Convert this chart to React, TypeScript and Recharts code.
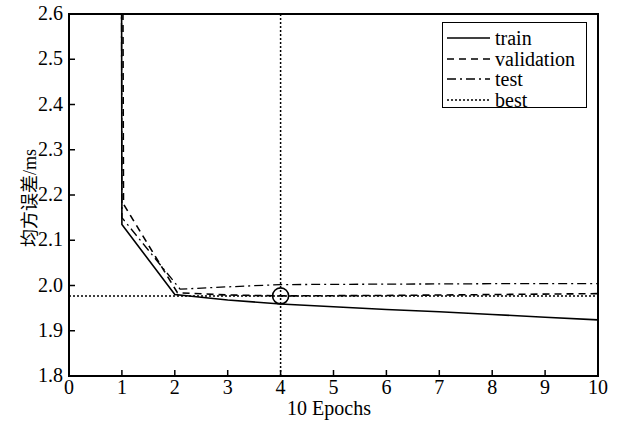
import React from "react";
import {
  LineChart,
  Line,
  XAxis,
  YAxis,
  ReferenceLine,
  ReferenceDot,
  ReferenceArea,
  Legend,
} from "recharts";

const xTicks = [0, 1, 2, 3, 4, 5, 6, 7, 8, 9, 10];
const yTicks = [1.8, 1.9, 2.0, 2.1, 2.2, 2.3, 2.4, 2.5, 2.6];

const trainX = [0.99, 1, 2, 3, 4, 5, 6, 7, 8, 9, 10];
const trainY = [3.0, 2.135, 1.98, 1.968, 1.959, 1.953, 1.947, 1.942, 1.936, 1.93, 1.924];

const validationX = [1.01, 1.03, 2.05, 3, 4, 6, 8, 10];
const validationY = [3.0, 2.18, 1.984, 1.979, 1.977, 1.978, 1.98, 1.982];

const testX = [0.985, 1.0, 2.1, 3, 4, 6, 8, 10];
const testY = [3.0, 2.15, 1.992, 1.997, 2.002, 2.003, 2.004, 2.004];

const bestEpoch = 4;
const bestValue = 1.977;

const toRows = (xs: number[], ys: number[]) => xs.map((x, i) => ({ x, y: ys[i] }));

const FONT = "Liberation Serif, DejaVu Serif, serif";
const PLOT_LEFT = 69;
const PLOT_BOTTOM = 376;

const legendItems = [
  { name: "train", dash: undefined },
  { name: "validation", dash: "7 5" },
  { name: "test", dash: "9 4 2 4" },
  { name: "best", dash: "2 2" },
];

function YTick({ y, payload }: any) {
  return (
    <g>
      <text x={63} y={y} dy={6} textAnchor="end" style={{ fontFamily: FONT }} fontSize={20} fill="#000">
        {Number(payload.value).toFixed(1)}
      </text>
      <line x1={PLOT_LEFT} x2={PLOT_LEFT + 6} y1={y} y2={y} stroke="#000" strokeWidth={1.5} />
    </g>
  );
}

function XTick({ x, payload }: any) {
  return (
    <g>
      <text x={x} y={394} textAnchor="middle" style={{ fontFamily: FONT }} fontSize={20} fill="#000">
        {payload.value}
      </text>
      <line x1={x} x2={x} y1={PLOT_BOTTOM} y2={PLOT_BOTTOM - 6} stroke="#000" strokeWidth={1.5} />
    </g>
  );
}

function LegendBox() {
  return (
    <div
      style={{
        border: "1.5px solid #000",
        background: "#fff",
        width: 143,
        height: 84,
        fontFamily: FONT,
        fontSize: 20,
        boxSizing: "content-box",
      }}
    >
      {legendItems.map((it, i) => (
        <div key={it.name} style={{ height: 20.5, display: "flex", alignItems: "center", marginTop: i === 0 ? 5 : 0 }}>
          <svg width={48} height={10} style={{ marginLeft: 4 }}>
            <line x1={0} x2={43} y1={5} y2={5} stroke="#000" strokeWidth={1.5} strokeDasharray={it.dash} />
          </svg>
          <span style={{ lineHeight: "20px" }}>{it.name}</span>
        </div>
      ))}
    </div>
  );
}

export default function App() {
  return (
    <div style={{ position: "absolute", left: 0, top: 0, width: 621, height: 422, background: "#fff", fontFamily: FONT }}>
      <LineChart width={621} height={422} margin={{ top: 14, right: 23, bottom: 0, left: 0 }}>
        <XAxis
          type="number"
          dataKey="x"
          domain={[0, 10]}
          ticks={xTicks}
          allowDataOverflow
          height={46}
          tickLine={false}
          axisLine={false}
          tick={<XTick />}
          label={{
            content: () => (
              <text x={329} y={415} textAnchor="middle" style={{ fontFamily: FONT }} fontSize={20} fill="#000">
                10 Epochs
              </text>
            ),
          }}
        />
        <YAxis
          type="number"
          domain={[1.8, 2.6]}
          ticks={yTicks}
          allowDataOverflow
          width={69}
          tickLine={false}
          axisLine={false}
          tick={<YTick />}
          label={{
            content: () => (
              <text
                x={36}
                y={198}
                transform="rotate(-90 36 198)"
                textAnchor="middle"
                style={{ fontFamily: "Liberation Serif, Noto Sans CJK SC, serif" }}
                fontSize={18}
                fill="#000"
              >
                均方误差/ms
              </text>
            ),
          }}
        />
        <ReferenceLine y={bestValue} stroke="#000" strokeWidth={1.5} strokeDasharray="2 2" />
        <ReferenceLine x={bestEpoch} stroke="#000" strokeWidth={1.5} strokeDasharray="2 2" />
        <Line
          data={toRows(testX, testY)}
          dataKey="y"
          stroke="#000"
          strokeWidth={1.3}
          strokeDasharray="9 4 2 4"
          dot={false}
          isAnimationActive={false}
        />
        <Line
          data={toRows(validationX, validationY)}
          dataKey="y"
          stroke="#000"
          strokeWidth={1.6}
          strokeDasharray="7 5"
          dot={false}
          isAnimationActive={false}
        />
        <Line
          data={toRows(trainX, trainY)}
          dataKey="y"
          stroke="#000"
          strokeWidth={1.6}
          dot={false}
          isAnimationActive={false}
        />
        <ReferenceDot x={bestEpoch} y={bestValue} r={8} fill="none" stroke="#000" strokeWidth={1.6} />
        <ReferenceArea x1={0} x2={10} y1={1.8} y2={2.6} fill="none" stroke="#000" strokeWidth={2} />
        <Legend
          layout="horizontal"
          verticalAlign="middle"
          align="center"
          wrapperStyle={{ left: 442, top: 22, width: 146 }}
          content={() => <LegendBox />}
        />
      </LineChart>
    </div>
  );
}
